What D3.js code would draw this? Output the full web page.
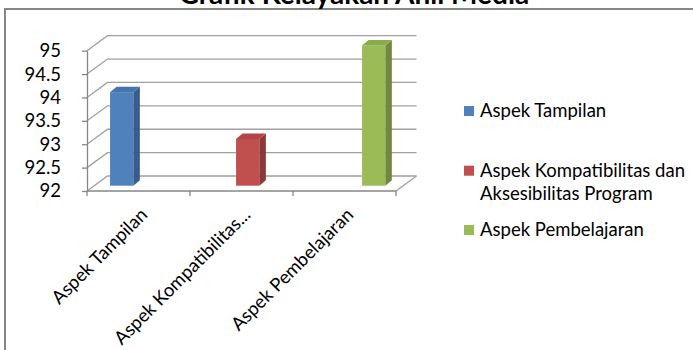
<!DOCTYPE html>
<html>
<head>
<meta charset="utf-8">
<title>Grafik Kelayakan Ahli Media</title>
<script src="https://d3js.org/d3.v7.min.js"></script>
<style>
  body { margin: 0; background: #fff; }
  text { font-family: Lato, "Open Sans", sans-serif; fill: #000; }
</style>
</head>
<body>
<div id="chart"></div>
<script>
// chart data
var categories = ["Aspek Tampilan", "Aspek Kompatibilitas dan Aksesibilitas Program", "Aspek Pembelajaran"];
var axisLabels = ["Aspek Tampilan", "Aspek Kompatibilitas...", "Aspek Pembelajaran"];
var values = [94, 93, 95];
var yTicks = [92, 92.5, 93, 93.5, 94, 94.5, 95];
var legendLines = [["Aspek Tampilan"], ["Aspek Kompatibilitas dan", "Aksesibilitas Program"], ["Aspek Pembelajaran"]];

var colors = ["#4f81bd", "#c0504d", "#9bbb59"];
var sideColors = ["#385d8a", "#8c3836", "#71893f"];
var topColors = ["#4475b0", "#b04744", "#8aab4b"];

var W = 693, H = 350;
var depthX = 20.5, depthY = -15;   // back wall offset

var svg = d3.select("#chart").append("svg")
    .attr("width", W).attr("height", H);

// outer frame (only left and top edges visible)
svg.append("rect")
    .attr("x", 5).attr("y", 9)
    .attr("width", W + 20).attr("height", H + 20)
    .attr("fill", "none").attr("stroke", "#868686").attr("stroke-width", 2);

// title, mostly cut off at the top
svg.append("text")
    .attr("x", 354).attr("y", 4)
    .attr("text-anchor", "middle")
    .style("font-weight", "bold").style("font-size", "28px")
    .text("Grafik Kelayakan Ahli Media");

var y = d3.scaleLinear().domain([92, 95]).range([191, 50.7]);
var x = d3.scaleBand().domain(categories).range([87, 396]).padding(0);
// bars sit a bit inside the floor, with perspective
var xBar = d3.scalePoint().domain(categories).range([121.7, 373.7]);

var grid = svg.append("g");
yTicks.forEach(function (t) {
    var yf = y(t);
    grid.append("path")
        .attr("d", "M87," + yf + "L" + (87 + depthX) + "," + (yf + depthY) +
            "L" + (396 + depthX) + "," + (yf + depthY))
        .attr("fill", "none").attr("stroke", "#a0a0a0").attr("stroke-width", 1.3);
});
// floor right edge
grid.append("line")
    .attr("x1", 396).attr("y1", y(92))
    .attr("x2", 396 + depthX).attr("y2", y(92) + depthY)
    .attr("stroke", "#a0a0a0").attr("stroke-width", 1.3);

// floor front edge with category ticks
var xAxis = svg.append("g");
xAxis.append("line")
    .attr("x1", x.range()[0]).attr("x2", x.range()[1])
    .attr("y1", y(92)).attr("y2", y(92))
    .attr("stroke", "#868686").attr("stroke-width", 1.3);
var bounds = categories.map(function (c) { return x(c); }).concat([x.range()[1]]);
xAxis.selectAll(".tk").data(bounds).enter().append("line")
    .attr("x1", function (d) { return d; }).attr("x2", function (d) { return d; })
    .attr("y1", y(92)).attr("y2", y(92) + 5)
    .attr("stroke", "#868686").attr("stroke-width", 1.3);

xAxis.selectAll(".lbl").data(categories).enter().append("text")
    .attr("transform", function (d) {
        return "translate(" + (x(d) + x.bandwidth() / 2 + 10) + "," + 216 + ") rotate(-45)";
    })
    .attr("text-anchor", "end")
    .style("font-size", "18.5px")
    .text(function (d, i) { return axisLabels[i]; });

// y axis
var yAxis = svg.append("g")
    .attr("transform", "translate(87,0)")
    .call(d3.axisLeft(y).tickValues(yTicks).tickSize(5).tickSizeOuter(0).tickPadding(21)
        .tickFormat(function (d) { return String(d); }));
yAxis.select(".domain").attr("stroke", "#868686").attr("stroke-width", 1.3);
yAxis.selectAll(".tick line").attr("stroke", "#868686").attr("stroke-width", 1.3);
yAxis.selectAll(".tick text")
    .style("font-family", "Lato, sans-serif").style("font-size", "18.5px").attr("fill", "#000");

// 3D bars
var bw = 23.3, sw = 6.5, th = 5.5, barDrop = 5.3;
var bars = svg.append("g").selectAll("g").data(values).enter().append("g");
bars.each(function (v, i) {
    var g = d3.select(this);
    var x0 = xBar(categories[i]) - bw / 2;
    var yTop = y(v) - barDrop, yBot = y(92) - barDrop;
    g.append("rect")
        .attr("x", x0).attr("y", yTop)
        .attr("width", bw).attr("height", yBot - yTop)
        .attr("fill", colors[i]);
    g.append("path")
        .attr("d", "M" + (x0 + bw) + "," + yTop + "L" + (x0 + bw + sw) + "," + (yTop - th) +
            "L" + (x0 + bw + sw) + "," + (yBot - th) + "L" + (x0 + bw) + "," + yBot + "Z")
        .attr("fill", sideColors[i]);
    g.append("path")
        .attr("d", "M" + x0 + "," + yTop + "L" + (x0 + sw) + "," + (yTop - th) +
            "L" + (x0 + bw + sw) + "," + (yTop - th) + "L" + (x0 + bw) + "," + yTop + "Z")
        .attr("fill", topColors[i]);
});

// legend
var legendTop = [111, 170.7, 230];
var legend = svg.append("g");
legendLines.forEach(function (lines, i) {
    legend.append("rect")
        .attr("x", 464).attr("y", legendTop[i] - 5)
        .attr("width", 10).attr("height", 10)
        .attr("fill", colors[i]);
    lines.forEach(function (ln, j) {
        legend.append("text")
            .attr("x", 480).attr("y", legendTop[i] + j * 22.6)
            .attr("dy", "0.35em")
            .style("font-size", "18.5px")
            .text(ln);
    });
});
</script>
</body>
</html>
